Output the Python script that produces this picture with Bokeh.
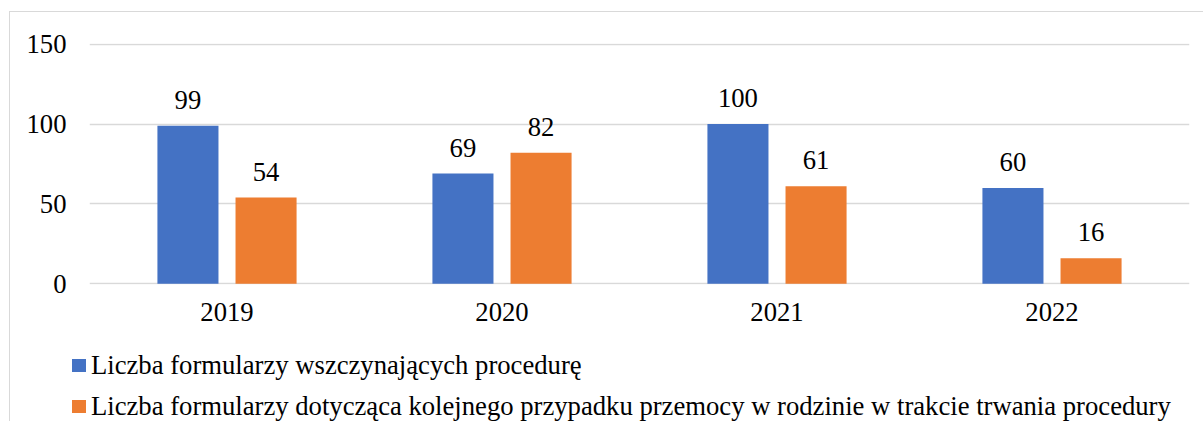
from bokeh.plotting import figure
from bokeh.layouts import column
from bokeh.models import FactorRange, Range1d, ColumnDataSource, FixedTicker, Div
from bokeh.transform import dodge
from bokeh.core.properties import value
from bokeh.embed import file_html
from bokeh.resources import INLINE

years = ["2019", "2020", "2021", "2022"]
wszczynajace = [99, 69, 100, 60]
kolejne = [54, 82, 61, 16]
series_names = [
    "Liczba formularzy wszczynających procedurę",
    "Liczba formularzy dotycząca kolejnego przypadku przemocy w rodzinie w trakcie trwania procedury",
]
y_ticks = [0, 50, 100, 150]

BLUE = "#4472C4"
ORANGE = "#ED7D31"
GRID = "#d9d9d9"
FONT = "Liberation Serif"
FS = "26.67px"

src = ColumnDataSource(dict(
    year=years,
    a=wszczynajace,
    b=kolejne,
    la=[str(v) for v in wszczynajace],
    lb=[str(v) for v in kolejne],
))

# ---- main chart ----
p = figure(
    x_range=FactorRange(*years, range_padding=0),
    y_range=Range1d(-0.4, 150.4),
    width=1193, height=331,
    min_border_left=79, min_border_right=14, min_border_top=31, min_border_bottom=59,
    output_backend="svg", toolbar_location=None,
)
p.frame_width = 1100
p.frame_height = 241
p.margin = 0
p.outline_line_color = None
p.background_fill_color = "white"
p.border_fill_color = "white"

w = 0.222
off = 0.142
p.vbar(x=dodge("year", -off, range=p.x_range), top="a", width=w, source=src,
       fill_color=BLUE, line_color=None, legend_label=series_names[0])
p.vbar(x=dodge("year", off, range=p.x_range), top="b", width=w, source=src,
       fill_color=ORANGE, line_color=None, legend_label=series_names[1])
p.legend.visible = False

p.text(x=dodge("year", -off, range=p.x_range), y="a", text="la", source=src,
       text_align="center", text_baseline="alphabetic", y_offset=-26,
       text_font=value(FONT), text_font_size=FS, text_color="black")
p.text(x=dodge("year", off, range=p.x_range), y="b", text="lb", source=src,
       text_align="center", text_baseline="alphabetic", y_offset=-26,
       text_font=value(FONT), text_font_size=FS, text_color="black")

p.xgrid.grid_line_color = None
p.ygrid.grid_line_color = GRID
p.ygrid.grid_line_width = 1.3
p.yaxis.ticker = FixedTicker(ticks=y_ticks)

for ax in (p.xaxis[0], p.yaxis[0]):
    ax.axis_line_color = None
    ax.major_tick_line_color = None
    ax.minor_tick_line_color = None
    ax.major_tick_out = 0
    ax.major_tick_in = 0
    ax.major_label_text_font = FONT
    ax.major_label_text_font_size = FS
    ax.major_label_text_color = "black"
p.yaxis.major_label_standoff = 23
p.xaxis.major_label_standoff = 18

# ---- legend (HTML) ----
rows = []
for name, color in zip(series_names, [BLUE, ORANGE]):
    rows.append(
        '<div style="height:41px;line-height:41px;white-space:nowrap;">'
        f'<span style="display:inline-block;width:14px;height:13px;background:{color};'
        'margin-left:62px;margin-right:5px;vertical-align:2px;"></span>'
        f'<span>{name}</span></div>'
    )
legend_html = (
    f'<div style="font-family:\'{FONT}\', serif;font-size:{FS};color:black;'
    'padding-top:2px;margin:0;">' + "".join(rows) + '</div>'
)
leg = Div(text=legend_html, width=1193, height=78, margin=0)

layout = column(p, leg, spacing=0)
layout.margin = (11, 0, 0, 9)
layout.styles = {"border-left": "1px solid #d9d9d9", "border-top": "1px solid #d9d9d9"}

open("out.html", "w").write(file_html(layout, INLINE))
